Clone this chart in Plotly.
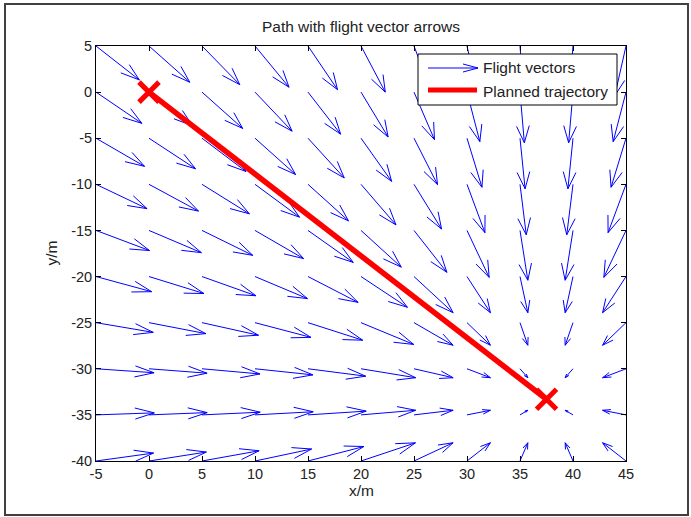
import plotly.graph_objects as go
import plotly.figure_factory as ff

# ---------------- data ----------------
x_grid = [-5, 0, 5, 10, 15, 20, 25, 30, 35, 40, 45]
y_grid = [5, 0, -5, -10, -15, -20, -25, -30, -35, -40]

# flight vector components (rows follow y_grid, columns follow x_grid)
U = [
    [4.09, 3.85, 3.56, 3.21, 2.79, 2.29, 1.71, 1.06, 0.36, -0.36, -1.06],
    [4.33, 4.11, 3.84, 3.50, 3.08, 2.56, 1.93, 1.21, 0.41, -0.41, -1.21],
    [4.58, 4.39, 4.15, 3.83, 3.42, 2.89, 2.22, 1.41, 0.48, -0.48, -1.41],
    [4.82, 4.67, 4.47, 4.20, 3.82, 3.30, 2.60, 1.69, 0.59, -0.59, -1.69],
    [5.05, 4.94, 4.79, 4.58, 4.27, 3.80, 3.10, 2.09, 0.74, -0.74, -2.09],
    [5.25, 5.18, 5.09, 4.95, 4.73, 4.38, 3.69, 2.21, 0.74, -0.74, -2.21],
    [5.40, 5.37, 5.33, 5.27, 5.16, 4.97, 3.69, 2.21, 0.74, -0.74, -2.21],
    [5.48, 5.48, 5.47, 5.46, 5.44, 5.16, 3.69, 2.21, 0.74, -0.74, -2.21],
    [5.50, 5.49, 5.49, 5.49, 5.49, 5.16, 3.69, 2.21, 0.74, -0.74, -2.21],
    [5.43, 5.41, 5.39, 5.34, 5.27, 5.14, 3.69, 2.21, 0.74, -0.74, -2.21],
]
V = [
    [-3.68, -3.93, -4.19, -4.47, -4.74, -5.00, -5.23, -5.40, -5.49, -5.49, -5.40],
    [-3.39, -3.65, -3.94, -4.24, -4.56, -4.87, -5.15, -5.37, -5.49, -5.49, -5.37],
    [-3.05, -3.31, -3.61, -3.94, -4.31, -4.68, -5.03, -5.32, -5.48, -5.48, -5.32],
    [-2.64, -2.90, -3.20, -3.56, -3.96, -4.40, -4.85, -5.24, -5.47, -5.47, -5.24],
    [-2.18, -2.41, -2.70, -3.05, -3.47, -3.98, -4.54, -5.09, -5.40, -5.40, -5.09],
    [-1.64, -1.84, -2.08, -2.39, -2.80, -3.33, -3.92, -3.92, -3.92, -3.92, -3.92],
    [-1.05, -1.19, -1.36, -1.59, -1.90, -2.36, -2.45, -2.45, -2.45, -2.45, -2.45],
    [-0.43, -0.48, -0.56, -0.66, -0.80, -0.97, -0.97, -0.97, -0.97, -0.97, -0.97],
    [0.22, 0.25, 0.29, 0.34, 0.41, 0.50, 0.50, 0.50, 0.50, 0.50, 0.50],
    [0.86, 0.97, 1.11, 1.30, 1.57, 1.97, 1.98, 1.98, 1.98, 1.98, 1.98],
]

path_x = [0, 37.5]
path_y = [0, -33.3]

x_ticks = [-5, 0, 5, 10, 15, 20, 25, 30, 35, 40, 45]
x_tick_labels = ["-5", "0", "5", "10", "15", "20", "25", "30", "35", "40", "45"]
y_ticks = [-40, -35, -30, -25, -20, -15, -10, -5, 0, 5]
y_tick_labels = ["-40", "-35", "-30", "-25", "-20", "-15", "-10", "-5", "0", "5"]

title_text = "Path with flight vector arrows"
legend_labels = ["Flight vectors", "Planned trajectory"]

# ---------------- figure ----------------
W, H = 691, 517
L, R, T, B = 96, 65, 46, 56
PW, PH = W - L - R, H - T - B

def px_x(p):
    return (p - L) / PW

def px_y(p):
    return (H - B - p) / PH

xs, ys, us, vs = [], [], [], []
for i, yv in enumerate(y_grid):
    for j, xv in enumerate(x_grid):
        xs.append(xv)
        ys.append(yv)
        us.append(U[i][j])
        vs.append(V[i][j])

fig = ff.create_quiver(
    xs, ys, us, vs, scale=1, arrow_scale=0.3475, angle=0.319,
    line=dict(color="#0000ff", width=1), name=legend_labels[0],
    showlegend=False, hoverinfo="skip",
)

fig.add_trace(go.Scatter(
    x=path_x, y=path_y, mode="lines+markers", name=legend_labels[1],
    line=dict(color="#ff0000", width=5.5),
    marker=dict(symbol="x-thin", size=20, color="#ff0000",
                line=dict(color="#ff0000", width=5)),
    showlegend=False, hoverinfo="skip",
))

font_family = "Liberation Sans, Arial, sans-serif"
text_color = "#222222"

axis_common = dict(
    showline=True, linecolor="black", linewidth=1, mirror="ticks",
    ticks="inside", ticklen=5, tickwidth=1, tickcolor="black",
    showgrid=False, zeroline=False,
    tickfont=dict(family=font_family, size=14.5, color=text_color),
)

fig.update_layout(
    width=W, height=H,
    margin=dict(l=L, r=R, t=T, b=B, pad=0),
    paper_bgcolor="white", plot_bgcolor="white",
    showlegend=False,
    title=dict(text=title_text, x=0.5, xref="paper", xanchor="center",
               y=1 - 27 / H, yref="container", yanchor="middle",
               font=dict(family=font_family, size=15.5, color=text_color)),
    xaxis=dict(range=[-5, 45], tickvals=x_ticks, ticktext=x_tick_labels, **axis_common),
    yaxis=dict(range=[-40, 5], tickvals=y_ticks, ticktext=y_tick_labels, **axis_common),
)

# axis titles
fig.add_annotation(text="x/m", x=0.5, y=px_y(490), xref="paper", yref="paper",
                   showarrow=False, xanchor="center", yanchor="middle",
                   font=dict(family=font_family, size=15.5, color=text_color))
fig.add_annotation(text="y/m", x=px_x(51), y=0.5, xref="paper", yref="paper",
                   showarrow=False, xanchor="center", yanchor="middle", textangle=-90,
                   font=dict(family=font_family, size=15.5, color=text_color))

# legend box
fig.add_shape(type="rect", xref="paper", yref="paper",
              x0=px_x(418), x1=px_x(617), y0=px_y(105), y1=px_y(54),
              line=dict(color="black", width=1), fillcolor="white", layer="above")
# legend sample: arrow
ay = 68
p = (f"M {px_x(428)},{px_y(ay)} L {px_x(478)},{px_y(ay)} "
     f"M {px_x(463)},{px_y(ay - 4)} L {px_x(478)},{px_y(ay)} L {px_x(463)},{px_y(ay + 4)}")
fig.add_shape(type="path", path=p, xref="paper", yref="paper",
              line=dict(color="#0000ff", width=1), layer="above")
# legend sample: red line
fig.add_shape(type="line", xref="paper", yref="paper",
              x0=px_x(428), x1=px_x(477), y0=px_y(90), y1=px_y(90),
              line=dict(color="#ff0000", width=5), layer="above")
for lbl, yy in zip(legend_labels, [68, 91]):
    fig.add_annotation(text=lbl, x=px_x(481), y=px_y(yy), xref="paper", yref="paper",
                       showarrow=False, xanchor="left", yanchor="middle",
                       font=dict(family=font_family, size=15.5, color=text_color))

# outer frame
fig.add_shape(type="rect", xref="paper", yref="paper",
              x0=px_x(5), x1=px_x(688), y0=px_y(515), y1=px_y(4),
              line=dict(color="#404040", width=2), fillcolor="rgba(0,0,0,0)", layer="above")

fig.write_html("out.html")
